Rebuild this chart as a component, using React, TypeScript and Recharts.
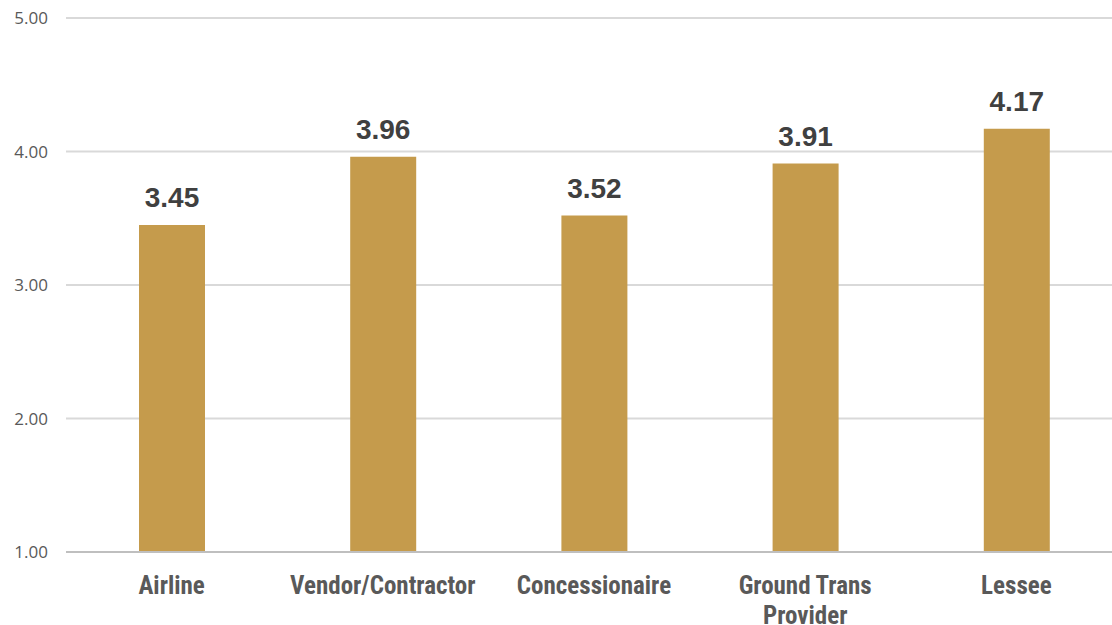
import React from "react";
import { BarChart, Bar, XAxis, YAxis, CartesianGrid, LabelList } from "recharts";

const categories = ["Airline", "Vendor/Contractor", "Concessionaire", "Ground Trans Provider", "Lessee"];
const scores = [3.45, 3.96, 3.52, 3.91, 4.17];
const yTicks = [1, 2, 3, 4, 5];
const categoryLines: Record<string, string[]> = {
  "Ground Trans Provider": ["Ground Trans", "Provider"],
};

const data = categories.map((c, i) => ({ name: c, value: scores[i] }));

const YTick = (props: any) => {
  const { x, y, payload } = props;
  return (
    <text x={x} y={y} dy={6} textAnchor="end" fill="#595959" fontSize={17} fontFamily="'Open Sans', 'Noto Sans', sans-serif">
      {payload.value.toFixed(2)}
    </text>
  );
};

const XTick = (props: any) => {
  const { x, y, payload } = props;
  const lines = categoryLines[payload.value] || [payload.value];
  return (
    <g>
      {lines.map((l: string, i: number) => (
        <text key={i} x={x} y={y + 34 + i * 30} textAnchor="middle" fill="#595959" fontSize={25} fontWeight="bold"
          fontFamily="'Liberation Sans Narrow', 'Arial Narrow', 'Roboto Condensed', sans-serif">
          {l}
        </text>
      ))}
    </g>
  );
};

const ValueLabel = (props: any) => {
  const { x, y, width, value } = props;
  return (
    <text x={x + width / 2} y={y - 18} textAnchor="middle" fill="#404040" fontSize={28} fontWeight="bold"
      fontFamily="'Liberation Sans', Arial, sans-serif">
      {Number(value).toFixed(2)}
    </text>
  );
};

export default function App() {
  return (
    <div style={{ position: "absolute", left: 0, top: 0, width: 1112, height: 625, overflow: "hidden", background: "#fff" }}>
      <BarChart width={1125} height={625} data={data} margin={{ top: 18, right: 3, bottom: 0, left: 0 }}>
        <CartesianGrid vertical={false} stroke="#D9D9D9" strokeWidth={2} />
        <XAxis dataKey="name" height={73} tickLine={false} axisLine={{ stroke: "#BFBFBF", strokeWidth: 2 }} tick={<XTick />} interval={0} />
        <YAxis domain={[1, 5]} ticks={yTicks} width={66} axisLine={false} tickLine={false} tick={<YTick />} tickMargin={0} tickSize={18} />
        <Bar dataKey="value" fill="#C59B4C" barSize={66} isAnimationActive={false}>
          <LabelList dataKey="value" content={<ValueLabel />} />
        </Bar>
      </BarChart>
    </div>
  );
}
